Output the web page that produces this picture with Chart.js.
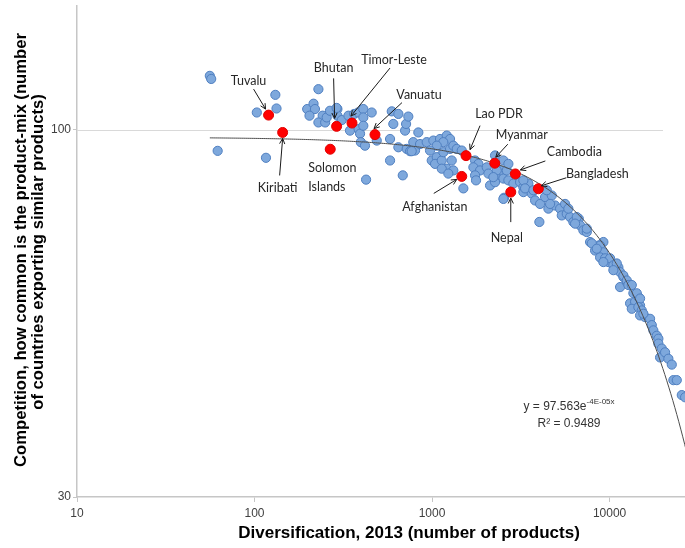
<!DOCTYPE html>
<html><head><meta charset="utf-8">
<script src="https://cdn.jsdelivr.net/npm/chart.js@4.4.1/dist/chart.umd.min.js"></script>
<style>html,body{margin:0;padding:0;background:#fff}#wrap{width:685px;height:548px}</style>
</head><body><div id="wrap"><canvas id="c" width="685" height="548"></canvas></div>
<script>
// ---- data ----
const diversification = [56,57,62,103,131,133,116,229,198,215,219,204,242,229,250,255,266,293,293,310,338,364,384,410,410,457,345,386,393,410,397,419,488,593,646,605,580,646,720,705,714,580,684,425,290,735,837,752,802,784,856,933,1017,1109,1210,1263,1157,1063,974,768,996,1063,1040,1134,1158,1263,1318,1378,1470,1291,1210,1134,1318,1235,1501,1747,1823,1709,1864,1747,1769,2033,2076,2264,2416,2314,2522,2635,2122,2264,2545,2522,2691,2314,2215,2691,2871,3132,3269,3488,2522,3269,3645,3805,4060,4332,4725,4522,4932,5262,5379,5739,5991,6253,6707,6821,7119,7440,4023,7766,8648,9227,3269,3342,3722,4428,4622,5615,5860,6534,6393,7440,8287,8841,9227,8841,9434,9846,10065,10505,11210,11460,11961,11460,12500,13047,13617,13047,13922,14530,14854,7939,8470,9227,10978,10505,11961,12500,12763,13338,14231,14854,13338,14530,15185,14854,15851,16911,17288,17650,18445,18834,15503,18834,19683,19254,20546,21442,22409,22878,23908,25513,26632];
const competition = [119.3,118.1,93.3,105.8,112.1,107.2,91.2,114.2,107.0,108.9,107.0,104.7,104.7,102.4,102.4,104.1,106.4,107.0,104.7,103.2,104.7,105.3,105.8,107.0,104.1,105.8,99.7,100.2,98.7,101.3,96.0,94.9,96.5,106.2,105.3,101.9,97.0,94.4,93.9,99.7,101.9,90.4,86.1,84.9,107.4,104.4,99.1,93.2,93.4,96.0,95.4,96.0,96.5,97.0,98.1,97.0,96.0,94.9,93.4,93.2,90.4,91.4,89.4,90.4,92.9,93.9,94.9,93.9,93.4,90.4,88.0,88.0,87.5,86.6,82.5,90.4,89.4,88.4,87.5,86.1,84.7,88.4,86.6,91.9,87.5,85.2,85.2,87.5,83.3,84.2,80.0,90.4,89.4,87.5,85.6,84.7,83.8,84.2,82.8,83.8,79.7,81.5,81.1,79.3,78.4,80.2,80.6,77.2,78.0,77.2,75.5,75.9,75.1,73.9,74.7,73.1,71.9,71.5,73.9,69.2,68.4,69.2,84.7,82.5,82.0,82.0,78.4,78.4,77.2,75.1,73.5,72.3,67.3,68.4,66.9,65.8,65.6,64.8,65.6,64.1,63.7,62.7,61.7,59.7,60.7,60.1,58.5,56.6,56.9,57.8,56.2,68.9,67.7,64.8,64.5,63.1,62.0,61.0,60.1,60.1,58.5,57.5,55.6,55.9,55.3,54.4,54.1,53.8,52.7,51.8,50.9,50.4,54.7,49.6,48.8,47.4,48.2,47.2,46.3,44.0,44.0,41.9,41.6];

const countryNames = ["Tuvalu","Kiribati","Bhutan","Timor-Leste","Vanuatu","Solomon Islands","Lao PDR","Afghanistan","Myanmar","Cambodia","Bangladesh","Nepal"];
const countryDiversification = [120,144,290,354,477,267,1554,1470,2256,2946,3971,2776];
const countryCompetition = [104.9,99.1,101.1,102.2,98.4,93.8,91.85,85.8,89.6,86.5,82.4,81.5];

const xTickValues = [10,100,1000,10000];
const yTickValues = [30,100];
const X_MIN = 10, X_MAX = 26600, Y_MIN = 30, Y_MAX = 150;
const GRID_LINE_VALUE = 100, GRID_LINE_END = 20000;

// exponential trendline shown in the chart (y = a·e^(b·x))
const TREND_A = 97.563, TREND_B = -3.8e-5;
const equationMain = "y = 97.563e", equationExp = "-4E-05x", r2Text = "R\u00B2 = 0.9489";

const xTitle = "Diversification, 2013 (number of products)";
const yTitleLines = ["Competition, how common is the product-mix (number", "of countries exporting similar products)"];

// ---- layout / style (label placement relative to each red point, in px) ----
const labelLayout = {
  "Tuvalu":        {text:[[-20,-34]], tail:[-15,-26], head:[-3,-6]},
  "Kiribati":      {text:[[-5,56]], tail:[-3,43], head:[0,6]},
  "Bhutan":        {text:[[-3,-58]], tail:[-3,-48], head:[-2,-8]},
  "Timor-Leste":   {text:[[42,-63]], tail:[38,-55], head:[-1,-7]},
  "Vanuatu":       {text:[[44,-40]], tail:[27,-32], head:[-1,-6]},
  "Solomon Islands":{text:[[-22,19],[-22,38]], left:true, lines:["Solomon","Islands"]},
  "Lao PDR":       {text:[[33,-42]], tail:[14,-30], head:[4,-6]},
  "Afghanistan":   {text:[[-27,31]], tail:[-28,17], head:[-5,3]},
  "Myanmar":       {text:[[27,-28]], tail:[13,-19], head:[1,-6]},
  "Cambodia":      {text:[[59,-22]], tail:[30,-13], head:[5,-4]},
  "Bangladesh":    {text:[[59,-15]], tail:[28,-11], head:[3,-3]},
  "Nepal":         {text:[[-4,46]], tail:[0,30], head:[0,6]}
};
const PLOT_RIGHT = 685; // plot area reaches the right edge of the picture

const trendX = [], trendY = [];
(function(){
  const lo = Math.log10(Math.min(...diversification)), hi = Math.log10(X_MAX*1.05);
  for (let i=0;i<=240;i++){ const x = Math.pow(10, lo+(hi-lo)*i/240); trendX.push(x); trendY.push(TREND_A*Math.exp(TREND_B*x)); }
})();

const AXIS_COLOR = '#c6c6c6';
const TICK_FONT = {family:'"Liberation Sans", Arial, sans-serif', size:12};

function drawArrow(ctx, x1,y1,x2,y2){
  ctx.beginPath(); ctx.moveTo(x1,y1); ctx.lineTo(x2,y2); ctx.stroke();
  const a = Math.atan2(y2-y1,x2-x1), L=6, s=0.45;
  ctx.beginPath();
  ctx.moveTo(x2 - L*Math.cos(a-s), y2 - L*Math.sin(a-s));
  ctx.lineTo(x2,y2);
  ctx.lineTo(x2 - L*Math.cos(a+s), y2 - L*Math.sin(a+s));
  ctx.stroke();
}
function fitFont(ctx, text, weight, size, family, target){
  ctx.font = weight+' '+size+'px '+family;
  const w = ctx.measureText(text).width;
  return size*target/w;
}
function noPad(s){ s.paddingLeft = 0; s.paddingRight = 0; s.paddingTop = 0; s.paddingBottom = 0; }

const decor = {
  id:'decor',
  afterLayout(chart){
    // stretch the plot area to the right edge
    const xs = chart.scales.x, ca = chart.chartArea;
    xs.right = PLOT_RIGHT; xs.width = PLOT_RIGHT - xs.left; xs.configure();
    ca.right = PLOT_RIGHT; ca.width = PLOT_RIGHT - ca.left;
  },
  beforeDatasetsDraw(chart){
    const ctx = chart.ctx, xs = chart.scales.x, ys = chart.scales.y;
    ctx.save();
    ctx.strokeStyle = '#d9d9d9'; ctx.lineWidth = 1;
    const y = Math.round(ys.getPixelForValue(GRID_LINE_VALUE))+0.5;
    ctx.beginPath(); ctx.moveTo(chart.chartArea.left, y); ctx.lineTo(xs.getPixelForValue(GRID_LINE_END), y); ctx.stroke();
    ctx.restore();
  },
  afterDraw(chart){
    const ctx = chart.ctx, xs = chart.scales.x, ys = chart.scales.y, ca = chart.chartArea;
    ctx.save();
    // country labels + arrows
    ctx.fillStyle = '#262626'; ctx.strokeStyle = '#1a1a1a'; ctx.lineWidth = 1;
    ctx.font = '12.5px Lato, "Open Sans", sans-serif';
    ctx.textBaseline = 'middle';
    countryNames.forEach((name,i)=>{
      const L = labelLayout[name]; if(!L) return;
      const px = xs.getPixelForValue(countryDiversification[i]), py = ys.getPixelForValue(countryCompetition[i]);
      const lines = L.lines || [name];
      ctx.textAlign = L.left ? 'left' : 'center';
      lines.forEach((t,k)=>ctx.fillText(t, px+L.text[k][0], py+L.text[k][1]));
      if (L.tail) drawArrow(ctx, px+L.tail[0], py+L.tail[1], px+L.head[0], py+L.head[1]);
    });
    // equation
    const ex = ca.left + 492, ey = ca.top + 401;
    ctx.fillStyle = '#333';
    ctx.font = '12px "Liberation Sans", Arial, sans-serif';
    const w1 = ctx.measureText(equationMain).width;
    ctx.font = '8px "Liberation Sans", Arial, sans-serif';
    const w2 = ctx.measureText(equationExp).width;
    const sx = ex - (w1+w2)/2;
    ctx.textAlign = 'left';
    ctx.font = '12px "Liberation Sans", Arial, sans-serif';
    ctx.fillText(equationMain, sx, ey);
    ctx.font = '8px "Liberation Sans", Arial, sans-serif';
    ctx.fillText(equationExp, sx+w1, ey-5);
    ctx.font = '12px "Liberation Sans", Arial, sans-serif';
    ctx.textAlign = 'center';
    ctx.fillText(r2Text, ex, ey+17);
    // axis titles
    ctx.fillStyle = '#000';
    const fam = '"Liberation Sans", Arial, sans-serif';
    const xs2 = fitFont(ctx, xTitle, 'bold', 14, fam, 342);
    ctx.font = 'bold '+xs2.toFixed(2)+'px '+fam;
    ctx.textAlign = 'center'; ctx.textBaseline = 'middle';
    ctx.fillText(xTitle, 409, 533);
    const ys2 = fitFont(ctx, yTitleLines[0], 'bold', 14, fam, 434);
    ctx.font = 'bold '+ys2.toFixed(2)+'px '+fam;
    ctx.save(); ctx.translate(21,250); ctx.rotate(-Math.PI/2); ctx.fillText(yTitleLines[0],0,0); ctx.restore();
    ctx.save(); ctx.translate(38,252); ctx.rotate(-Math.PI/2); ctx.fillText(yTitleLines[1],0,0); ctx.restore();
    ctx.restore();
  }
};

new Chart(document.getElementById('c'), {
  type:'scatter',
  data:{datasets:[
    {label:'LDCs', data:countryDiversification.map((x,i)=>({x, y:countryCompetition[i]})),
     pointRadius:5, pointBackgroundColor:'#ff0000', pointBorderColor:'#e00000', pointBorderWidth:1, showLine:false},
    {label:'Trend', data:trendX.map((x,i)=>({x, y:trendY[i]})), showLine:true, pointRadius:0,
     borderColor:'#4d4d4d', borderWidth:1, fill:false, tension:0},
    {label:'Countries', data:diversification.map((x,i)=>({x, y:competition[i]})),
     pointRadius:4.6, pointBackgroundColor:'#7ea8dc', pointBorderColor:'#4f7fc0', pointBorderWidth:1, showLine:false}
  ]},
  options:{
    responsive:false, animation:false, devicePixelRatio:1,
    layout:{padding:{top:6,right:0,left:0,bottom:0}},
    plugins:{legend:{display:false}, tooltip:{enabled:false}},
    scales:{
      x:{type:'logarithmic', min:X_MIN, max:X_MAX,
         afterBuildTicks:s=>{s.ticks = xTickValues.map(v=>({value:v}));},
         afterFit:s=>{s.height = 51; noPad(s);},
         ticks:{callback:v=>String(v), font:TICK_FONT, color:'#404040', padding:4, maxRotation:0, autoSkip:false},
         grid:{drawOnChartArea:false, drawTicks:true, tickLength:5, color:AXIS_COLOR},
         border:{color:AXIS_COLOR, width:1.5}},
      y:{type:'logarithmic', min:Y_MIN, max:Y_MAX,
         afterBuildTicks:s=>{s.ticks = yTickValues.map(v=>({value:v}));},
         afterFit:s=>{s.width = 77; noPad(s);},
         ticks:{callback:v=>String(v), font:TICK_FONT, color:'#404040', padding:2, autoSkip:false},
         grid:{drawOnChartArea:false, drawTicks:true, tickLength:4, color:AXIS_COLOR},
         border:{color:AXIS_COLOR, width:1.5}}
    }
  },
  plugins:[decor]
});
</script></body></html>
